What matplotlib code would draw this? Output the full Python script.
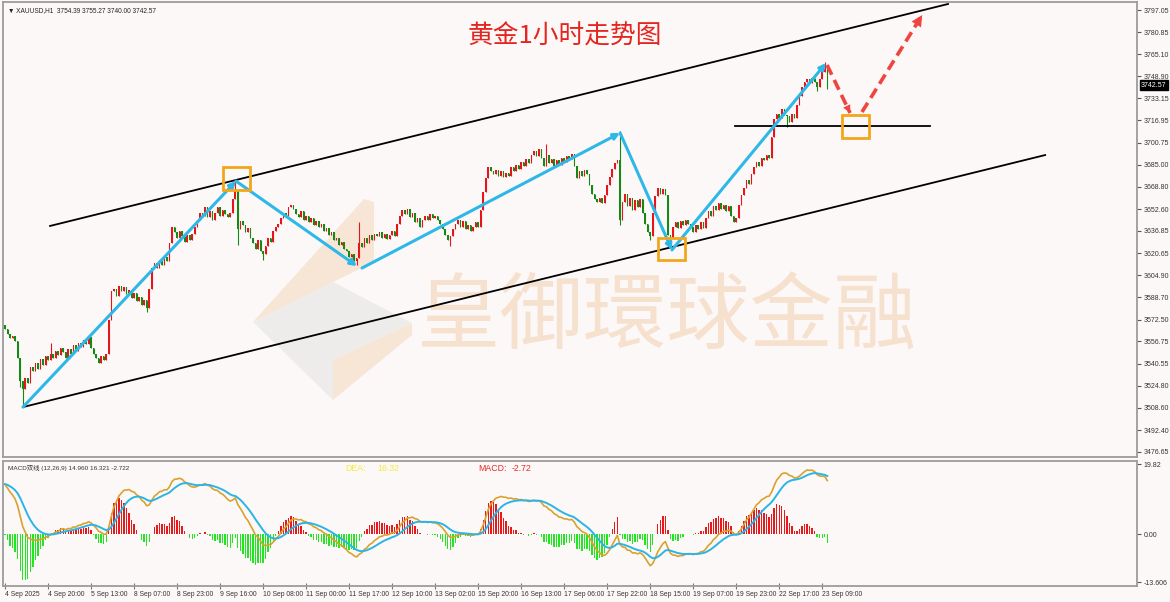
import numpy as np
import matplotlib.pyplot as plt
import matplotlib.transforms as mtransforms
from matplotlib.patches import FancyArrowPatch, Rectangle, Polygon

plt.rcParams['font.family'] = ['Liberation Sans', 'DejaVu Sans', 'Noto Sans CJK SC']

W, H = 1170, 602
BG = '#fdf8f8'

# ---- data (hourly closes, XAUUSD H1) ----
close = [
    3566, 3562, 3559, 3561, 3557, 3545, 3528, 3522,
    3530, 3527, 3538, 3535, 3541, 3537, 3544, 3540, 3546, 3543,
    3548, 3545, 3550, 3547, 3552, 3549, 3545, 3551, 3548, 3554, 3550,
    3556, 3553, 3558, 3555, 3560, 3552, 3548, 3545, 3541, 3546, 3543, 3548,
    3572, 3593, 3595, 3590, 3597, 3593, 3596,
    3591, 3594, 3588, 3592, 3586, 3589, 3583, 3587, 3581,
    3595, 3610, 3614, 3610, 3616, 3612, 3618, 3615,
    3628, 3640, 3636, 3632, 3637, 3633, 3629, 3634, 3630, 3635,
    3640, 3645, 3650, 3648, 3654, 3647, 3651, 3645, 3650,
    3654, 3648, 3652, 3649, 3647, 3650, 3660, 3666, 3638,
    3644, 3641, 3636, 3639, 3632, 3628, 3624, 3630, 3622, 3620,
    3626, 3632, 3629, 3637, 3640, 3642, 3646, 3650, 3648, 3654, 3656,
    3653, 3649, 3647, 3651, 3645, 3648, 3643, 3646, 3641, 3644, 3640,
    3642, 3637, 3639, 3634, 3636, 3630, 3632, 3627, 3629, 3624,
    3622, 3618, 3620, 3615, 3617, 3628, 3625,
    3632, 3628, 3634, 3630, 3635, 3633, 3636, 3632, 3635, 3631, 3634, 3637, 3633,
    3642, 3648, 3652, 3649, 3653, 3647, 3650, 3643, 3646, 3640, 3645,
    3648, 3645, 3649, 3646, 3648, 3645, 3642, 3638, 3634, 3630, 3633, 3638,
    3642, 3645, 3640, 3644, 3638, 3641, 3637, 3640, 3643, 3640,
    3652, 3665, 3675, 3683, 3680, 3678, 3681, 3677, 3680, 3676, 3679, 3677,
    3683, 3680, 3685, 3682, 3687, 3684, 3689, 3686, 3692, 3695, 3691, 3696,
    3690, 3684, 3692, 3686, 3689, 3684, 3688, 3685, 3690, 3687, 3691, 3689, 3693,
    3684, 3675, 3680, 3677, 3681, 3678, 3670, 3664, 3660, 3658, 3661, 3657, 3663,
    3670, 3676, 3682, 3686, 3688, 3645,
    3658, 3664, 3655, 3661, 3652, 3659, 3654, 3660, 3650, 3642, 3636, 3633,
    3650, 3662, 3668, 3664, 3667, 3663, 3634, 3632,
    3640, 3643, 3639, 3644, 3641, 3645, 3642, 3640, 3636, 3641, 3638, 3643, 3639,
    3646, 3651, 3648, 3655, 3652, 3657, 3653, 3656, 3651, 3655, 3648, 3643, 3646,
    3656, 3663, 3668, 3674, 3671, 3678, 3683, 3687, 3684, 3690, 3688, 3692, 3690,
    3705, 3718, 3722, 3719, 3725, 3721, 3720, 3716, 3722, 3719,
    3728, 3735, 3741, 3745, 3747, 3744, 3748, 3745, 3741, 3747, 3752, 3754.39,
    3742.57,
]
first_open = 3569.0
hi_bars = [18, 91, 140, 214, 243, 324, 325]
hi_vals = [3556, 3673, 3643, 3700, 3709, 3759, 3755.27]
lo_bars = [6, 7, 56, 92, 102, 139, 176, 243, 255, 263, 309, 321, 325]
lo_vals = [3524, 3509, 3578, 3627, 3616, 3612, 3626, 3641, 3630, 3629, 3712, 3738, 3740.00]

header = '\u25bc XAUUSD,H1  3754.39 3755.27 3740.00 3742.57'
macd_header = 'MACD双线 (12,26,9) 14.960 16.321 -2.722'
dea_text, macd_text = '16.32', '-2.72'

price_ticks = [3797.05, 3780.85, 3765.10, 3748.90, 3733.15, 3716.95, 3700.75,
               3685.00, 3668.80, 3652.60, 3636.85, 3620.65, 3604.90, 3588.70,
               3572.50, 3556.75, 3540.55, 3524.80, 3508.60, 3492.40, 3476.65]
macd_ticks = [19.82, 0.0, -13.606]
macd_tick_labels = ['19.82', '0.00', '-13.606']
time_labels = ['4 Sep 2025', '4 Sep 20:00', '5 Sep 13:00', '8 Sep 07:00', '8 Sep 23:00',
               '9 Sep 16:00', '10 Sep 08:00', '11 Sep 00:00', '11 Sep 17:00', '12 Sep 10:00',
               '13 Sep 02:00', '15 Sep 20:00', '16 Sep 13:00', '17 Sep 06:00', '17 Sep 22:00',
               '18 Sep 15:00', '19 Sep 07:00', '19 Sep 23:00', '22 Sep 17:00', '23 Sep 09:00']
bars_per_label = 17

# MACD(12,26,9) state just before the first bar
ema12_start, ema26_start, dea_start = 3560.0, 3545.4, 14.2

# drawn objects (bar index, price)
upper_line = [(17.8, 3640.5), (372.7, 3801.4)]
lower_line = [(7.1, 3509.2), (411.1, 3691.9)]
support_line = [(288.5, 3713.0), (365.6, 3713.0)]
wave_arrows = [((7.1, 3509.2), (91.3, 3673.0)),
               ((91.3, 3673.0), (139.1, 3611.4)),
               ((141.1, 3610.0), (243.1, 3707.9)),
               ((243.1, 3707.9), (263.6, 3623.1)),
               ((263.6, 3623.1), (324.5, 3758.6))]
forecast_arrows = [((324.9, 3757.2), (334.0, 3722.4)),
                   ((338.7, 3723.1), (362.5, 3793.4))]
boxes = [(86.2, 96.8, 3666.5, 3683.2), (258.1, 268.8, 3615.8, 3631.8),
         (330.8, 341.5, 3704.3, 3720.9)]

# ---- prepare ----
c = np.array(close, dtype=float)
n = len(c)
o = np.array([first_open] + close[:-1], dtype=float)
hi = np.maximum(o, c)
lo = np.minimum(o, c)
hi[hi_bars] = hi_vals
lo[lo_bars] = lo_vals
x = np.arange(n)

ema12, ema26, dea = ema12_start, ema26_start, dea_start
dif_s, dea_s = [], []
for v in c:
    ema12 += 2 / 13 * (v - ema12)
    ema26 += 2 / 27 * (v - ema26)
    d = ema12 - ema26
    dea += 2 / 10 * (d - dea)
    dif_s.append(d)
    dea_s.append(dea)
dif_s = np.array(dif_s)
dea_s = np.array(dea_s)
hist = 2 * (dif_s - dea_s)

# ---- figure ----
fig = plt.figure(figsize=(W / 100, H / 100), dpi=100, facecolor=BG)


def fr(px, py):
    return px / W, 1 - py / H


ax = fig.add_axes([3 / W, 1 - 457 / H, (1137 - 3) / W, (457 - 2) / H], facecolor='none')
ax2 = fig.add_axes([3 / W, 1 - 586 / H, (1137 - 3) / W, (586 - 461) / H], facecolor='none', sharex=ax)
ax.set_zorder(2)
ax2.set_zorder(2)

xmin, xmax = -0.8, 447.4
ax.set_xlim(xmin, xmax)
ax.set_ylim(3473.0, 3802.85)

# watermark (logo + name), behind the chart
peach = '#f7e6d5'
grey = '#eeeceb'
logo = [
    ([(253, 322), (333, 282), (412, 323), (333, 360)], grey),
    ([(253, 322), (333, 360), (333, 400)], grey),
    ([(253, 322), (364, 199), (374, 202), (374, 262), (333, 282)], peach),
    ([(333, 360), (412, 323), (412, 335), (333, 400)], peach),
]
for pts, col in logo:
    fig.patches.append(Polygon([fr(px, py) for px, py in pts], closed=True, fc=col, ec='none',
                               transform=fig.transFigure, zorder=0))
fig.text(667 / W, 1 - 318 / H, '皇御環球金融', family=['Noto Sans CJK TC'], fontsize=60,
         color='#f6e1ce', ha='center', va='center', zorder=0)

# candles
up_col, dn_col = '#e8141c', '#138a13'
cols = np.where(c >= o, up_col, dn_col)
ax.vlines(x, lo, hi, colors=cols, lw=0.8, zorder=3)
body = np.maximum(np.abs(c - o), 0.4)
ax.bar(x, body, bottom=np.minimum(o, c), width=0.62, color=cols, lw=0, zorder=3)

# channel & support lines
for ln in (upper_line, lower_line, support_line):
    ax.plot([ln[0][0], ln[1][0]], [ln[0][1], ln[1][1]], color='black', lw=1.3, zorder=4)

# wave arrows
blue = '#2db8e8'
for a, b in wave_arrows:
    ax.add_patch(FancyArrowPatch(a, b, arrowstyle='-|>', mutation_scale=9, lw=2.2,
                                 color=blue, shrinkA=0, shrinkB=0, zorder=5))

# forecast arrows (dashed)
red = '#f0443e'
for (a, b), hs in zip(forecast_arrows, (14, 20)):
    ax.plot([a[0], b[0]], [a[1], b[1]], color=red, lw=2.6, ls=(0, (3, 1.6)), zorder=5)
    ax.add_patch(FancyArrowPatch((a[0] + 0.75 * (b[0] - a[0]), a[1] + 0.75 * (b[1] - a[1])), b,
                                 arrowstyle='-|>', mutation_scale=hs, lw=0, color=red,
                                 shrinkA=0, shrinkB=0, zorder=5))

# boxes
for x0, x1, y0, y1 in boxes:
    ax.add_patch(Rectangle((x0, y0), x1 - x0, y1 - y0, fill=False, ec='#f2a71b', lw=2.0, zorder=6))

# right price scale
ax.yaxis.tick_right()
ax.set_yticks(price_ticks)
ax.set_yticklabels(['%.2f' % v for v in price_ticks])
ax.tick_params(axis='y', labelsize=5.0, length=3, width=0.8, color='#555555',
               labelcolor='#333333', pad=2)
ax.tick_params(axis='x', bottom=False, labelbottom=False)
blend = mtransforms.blended_transform_factory(ax.transAxes, ax.transData)
ax.text(1.0035, c[-1], '%.2f' % c[-1], transform=blend, fontsize=5.0, color='white',
        va='center', ha='left', bbox=dict(fc='black', ec='black', pad=1.0), zorder=10)

for a in (ax, ax2):
    for s in a.spines.values():
        s.set_color('#9c9c9c')
        s.set_linewidth(1.3)

ax.text(5 / 1134, 1 - 5 / 455, header, transform=ax.transAxes, fontsize=4.7,
        color='#222222', va='top', ha='left')

fig.text(565 / W, 1 - 37 / H, '黄金1小时走势图', family=['Noto Sans CJK SC'], fontsize=18.5,
         color='#e3261f', ha='center', va='center', zorder=3)

# MACD panel
ax2.set_ylim(-14.7, 20.7)
hcols = np.where(hist >= 0, '#e61a1a', '#22e622')
ax2.bar(x, hist, width=0.55, color=hcols, lw=0, zorder=2)
ax2.plot(x, dif_s, color='#d9a22e', lw=1.2, zorder=3)
ax2.plot(x, dea_s, color='#2ab5e6', lw=1.4, zorder=3)
ax2.yaxis.tick_right()
ax2.set_yticks(macd_ticks)
ax2.set_yticklabels(macd_tick_labels)
ax2.tick_params(axis='y', labelsize=5.0, length=3, width=0.8, color='#555555',
                labelcolor='#333333', pad=2)
ax2.set_xticks([k * bars_per_label for k in range(len(time_labels))])
ax2.set_xticklabels(time_labels)
for t in ax2.get_xticklabels():
    t.set_ha('left')
ax2.tick_params(axis='x', labelsize=4.9, length=4, width=0.8, color='#777777',
                labelcolor='#333333', pad=1.5, direction='inout')

ax2.text(5 / 1134, 1 - 4 / 125, macd_header, transform=ax2.transAxes, fontsize=4.6,
         color='#333333', va='top', ha='left')
ax2.text(342 / 1134, 1 - 3 / 125, 'DEA:', transform=ax2.transAxes, fontsize=6.3,
         color='#f2ec3a', va='top')
ax2.text(374 / 1134, 1 - 3 / 125, dea_text, transform=ax2.transAxes, fontsize=6.3,
         color='#f2ec3a', va='top')
ax2.text(475 / 1134, 1 - 3 / 125, 'MACD:', transform=ax2.transAxes, fontsize=6.3,
         color='#e52a2a', va='top')
ax2.text(509 / 1134, 1 - 3 / 125, macd_text, transform=ax2.transAxes, fontsize=6.3,
         color='#e52a2a', va='top')

fig.savefig('out.png', dpi=100, facecolor=BG)
